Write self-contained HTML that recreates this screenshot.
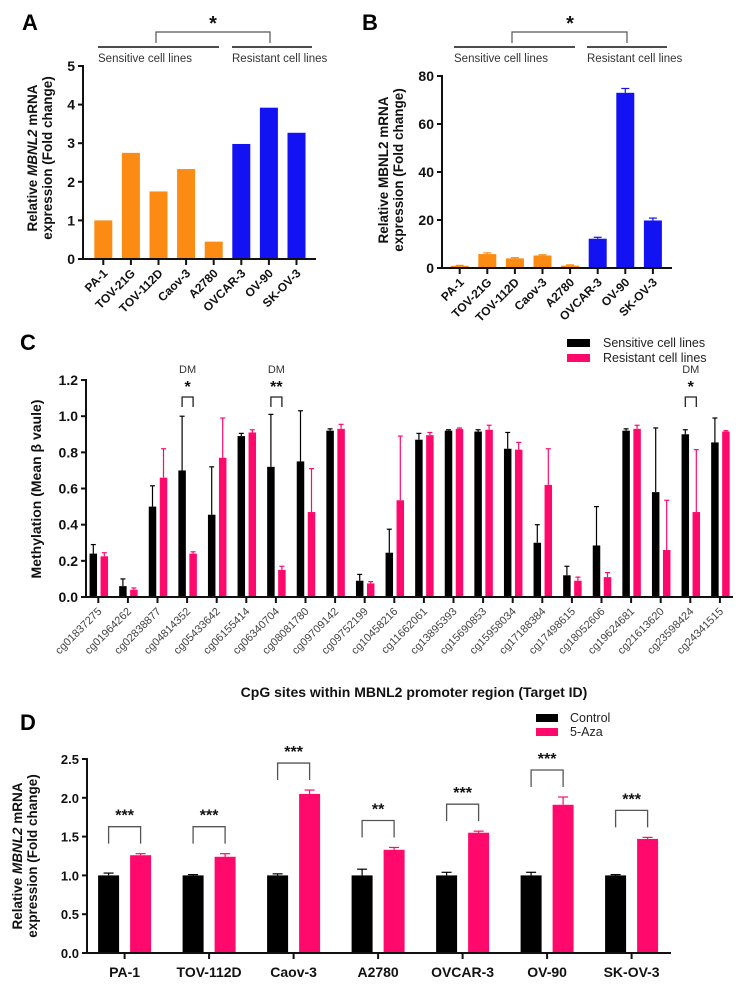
<!DOCTYPE html>
<html><head><meta charset="utf-8">
<style>
html,body{margin:0;padding:0;background:#fff;}
svg{display:block;font-family:"Liberation Sans",Arial,sans-serif;}
</style></head>
<body>
<svg id="fig" width="747" height="985" viewBox="0 0 747 985" xmlns="http://www.w3.org/2000/svg">
<rect x="0" y="0" width="747" height="985" fill="#fff"/>
</svg>
<script>
// ---------- Panel A data ----------
const cellLinesAB = ["PA-1","TOV-21G","TOV-112D","Caov-3","A2780","OVCAR-3","OV-90","SK-OV-3"];
const valuesA = [1.0, 2.75, 1.75, 2.33, 0.45, 2.98, 3.92, 3.27];
const ticksA = [0,1,2,3,4,5];
// ---------- Panel B data ----------
const valuesB = [0.9, 5.8, 4.0, 5.2, 1.0, 12.2, 73.0, 19.8];
const errorsB = [0.2, 0.5, 0.3, 0.3, 0.3, 0.6, 1.8, 1.0];
const ticksB = [0,20,40,60,80];
const groupAB = ["s","s","s","s","s","r","r","r"];
// ---------- Panel C data ----------
const cpgIds = ["cg01837275","cg01964262","cg02838877","cg04814352","cg05433642","cg06155414","cg06340704","cg08081780","cg09709142","cg09752199","cg10458216","cg11662061","cg13895393","cg15690853","cg15958034","cg17188384","cg17498615","cg18052606","cg19624681","cg21613620","cg23598424","cg24341515"];
const sensitiveC = [0.24,0.06,0.50,0.70,0.455,0.89,0.72,0.75,0.92,0.09,0.245,0.87,0.92,0.915,0.82,0.30,0.12,0.285,0.92,0.58,0.90,0.855];
const sensitiveErrC = [0.05,0.04,0.115,0.30,0.265,0.015,0.29,0.28,0.01,0.035,0.13,0.035,0.005,0.01,0.09,0.10,0.05,0.215,0.01,0.355,0.025,0.135];
const resistantC = [0.225,0.04,0.66,0.24,0.77,0.91,0.15,0.47,0.93,0.075,0.535,0.895,0.93,0.925,0.815,0.62,0.09,0.11,0.93,0.26,0.47,0.915];
const resistantErrC = [0.02,0.01,0.16,0.01,0.22,0.015,0.02,0.24,0.025,0.01,0.355,0.015,0.005,0.025,0.04,0.20,0.02,0.025,0.02,0.275,0.345,0.005];
const ticksC = [0,0.2,0.4,0.6,0.8,1.0,1.2];
const dmIndex = [3,6,20];
const dmStars = ["*","**","*"];
// ---------- Panel D data ----------
const cellLinesD = ["PA-1","TOV-112D","Caov-3","A2780","OVCAR-3","OV-90","SK-OV-3"];
const controlD = [1.0,1.0,1.0,1.0,1.0,1.0,1.0];
const controlErrD = [0.03,0.01,0.02,0.08,0.04,0.04,0.01];
const azaD = [1.26,1.24,2.05,1.33,1.55,1.91,1.47];
const azaErrD = [0.02,0.04,0.05,0.03,0.02,0.10,0.02];
const starsD = ["***","***","***","**","***","***","***"];
const ticksD = [0,0.5,1.0,1.5,2.0,2.5];

const NS = "http://www.w3.org/2000/svg";
const svg = document.getElementById("fig");
function mk(tag, attrs, name, inter){
  const el = document.createElementNS(NS, tag);
  for (const k in attrs) el.setAttribute(k, attrs[k]);
  
  
  svg.appendChild(el);
  return el;
}
function txt(x,y,s,attrs,name){
  const el = mk("text", Object.assign({x:x,y:y}, attrs), name, false);
  el.textContent = s;
  return el;
}
function ln(x1,y1,x2,y2,w,c,name){
  return mk("line",{x1:x1,y1:y1,x2:x2,y2:y2,stroke:c||"#000","stroke-width":w||1},name,false);
}
function errBar(x,y1,y2,cap,c,name){
  ln(x,y1,x,y2,1.2,c,name);
  ln(x-cap,y2,x+cap,y2,1.2,c,name+"-cap");
}

// ---------- Panel A ----------
const yA = v => 259 - v*38.6;
const xA = i => 103.3 + i*27.6;
// ---------- Panel B ----------
const yB = v => 268 - v*2.4;
const xB = i => 459.7 + i*27.6;

function panelAB(p, vals, errs, ticks, xs, ys, axisX, axisEnd, yTitleX, yTitleY, italic){
  const y0 = ys(0);
  // bars
  vals.forEach((v,i)=>{
    const col = groupAB[i]==="s" ? "#fb8b12" : "#1212f2";
    mk("rect",{x:xs(i)-9,y:ys(v),width:18,height:y0-ys(v),fill:col},"bar-"+p+"-"+cellLinesAB[i].toLowerCase(),false);
    if (errs) errBar(xs(i), ys(v), ys(v+errs[i]), 4, col, "error-bar-"+p+"-"+i);
  });
  // axes
  ln(axisX, ys(ticks[ticks.length-1])-1, axisX, y0+1, 2, "#111", "y-axis-"+p);
  ln(axisX-1, y0, axisEnd, y0, 2, "#111", "x-axis-"+p);
  ticks.forEach(t=>{
    ln(axisX-5, ys(t), axisX, ys(t), 2, "#111", "y-tick-"+p);
    txt(axisX-8, ys(t)+5, String(t), {"text-anchor":"end","font-size":"14","font-weight":"bold",fill:"#111"}, "y-tick-label-"+p);
  });
  cellLinesAB.forEach((c,i)=>{
    ln(xs(i), y0, xs(i), y0+6, 2, "#111", "x-tick-"+p);
    txt(0,0,c,{"text-anchor":"end","font-size":"12","font-weight":"bold",fill:"#111",transform:"translate("+(xs(i)+5)+","+(y0+15)+") rotate(-45)"},"x-tick-label-"+p);
  });
  // y title
  const t1 = mk("text",{transform:"translate("+yTitleX+","+yTitleY+") rotate(-90)","text-anchor":"middle","font-size":"13.5","font-weight":"bold",fill:"#111"},"y-axis-title-"+p,false);
  if (italic){
    t1.innerHTML = 'Relative <tspan font-style="italic">MBNL2</tspan> mRNA';
  } else {
    t1.textContent = "Relative MBNL2 mRNA";
  }
  txt(0,0,"expression (Fold change)",{transform:"translate("+(yTitleX+15)+","+yTitleY+") rotate(-90)","text-anchor":"middle","font-size":"13.5","font-weight":"bold",fill:"#111"},"y-axis-title-2-"+p);
}
panelAB("a", valuesA, null, ticksA, xA, yA, 83, 316, 37, 158, true);
panelAB("b", valuesB, errorsB, ticksB, xB, yB, 442, 672, 388, 170, false);

// group headers
function header(p, dx){
  txt(22+dx,30,p.toUpperCase(),{"font-size":"22","font-weight":"bold",fill:"#000"},"panel-label-"+p);
  txt(213+dx,30,"*",{"text-anchor":"middle","font-size":"20","font-weight":"bold",fill:"#111"},"significance-star-"+p);
  mk("polyline",{points:(156+dx)+",43 "+(156+dx)+",32 "+(270+dx)+",32 "+(270+dx)+",43",fill:"none",stroke:"#555","stroke-width":"1.2"},"significance-bracket-"+p,false);
  ln(98+dx,47,219+dx,47,1.8,"#333","sensitive-group-line-"+p);
  ln(232+dx,47,312+dx,47,1.8,"#333","resistant-group-line-"+p);
  txt(98+dx,62,"Sensitive cell lines",{"font-size":"11.5",fill:"#333"},"sensitive-group-label-"+p);
  txt(232+dx,62,"Resistant cell lines",{"font-size":"11.5",fill:"#333"},"resistant-group-label-"+p);
}
header("a",0);
// B header positioned relative
(function(){
  const dx = 356;
  txt(362,30,"B",{"font-size":"22","font-weight":"bold",fill:"#000"},"panel-label-b");
  txt(570,30,"*",{"text-anchor":"middle","font-size":"20","font-weight":"bold",fill:"#111"},"significance-star-b");
  mk("polyline",{points:"512,43 512,32 627,32 627,43",fill:"none",stroke:"#555","stroke-width":"1.2"},"significance-bracket-b",false);
  ln(454,47,575,47,1.8,"#333","sensitive-group-line-b");
  ln(587,47,667,47,1.8,"#333","resistant-group-line-b");
  txt(454,62,"Sensitive cell lines",{"font-size":"11.5",fill:"#333"},"sensitive-group-label-b");
  txt(587,62,"Resistant cell lines",{"font-size":"11.5",fill:"#333"},"resistant-group-label-b");
})();

// ---------- Panel C ----------
const yC = v => 597 - v*180.8;
const xC = i => 98.3 + i*29.6;
txt(20,350,"C",{"font-size":"22","font-weight":"bold",fill:"#000"},"panel-label-c");
cpgIds.forEach((id,i)=>{
  const xb = xC(i)-5, xp = xC(i)+6;
  mk("rect",{x:xb-3.75,y:yC(sensitiveC[i]),width:7.5,height:597-yC(sensitiveC[i]),fill:"#000"},"bar-sensitive-"+id,false);
  errBar(xb, yC(sensitiveC[i]), yC(sensitiveC[i]+sensitiveErrC[i]), 2.5, "#000", "error-bar-sensitive-"+id);
  mk("rect",{x:xp-3.75,y:yC(resistantC[i]),width:7.5,height:597-yC(resistantC[i]),fill:"#ff0a6c"},"bar-resistant-"+id,false);
  errBar(xp, yC(resistantC[i]), yC(resistantC[i]+resistantErrC[i]), 2.5, "#ff0a6c", "error-bar-resistant-"+id);
  ln(xC(i),597,xC(i),603,2,"#111","x-tick-c");
  txt(0,0,id,{"text-anchor":"end","font-size":"11",fill:"#444",transform:"translate("+(xC(i)+4)+",612) rotate(-45)"},"x-tick-label-c");
});
ln(86,yC(1.2)-1,86,598,2,"#111","y-axis-c");
ln(85,597,733,597,2,"#111","x-axis-c");
ticksC.forEach(t=>{
  ln(81,yC(t),86,yC(t),2,"#111","y-tick-c");
  txt(78,yC(t)+5,t.toFixed(1),{"text-anchor":"end","font-size":"14","font-weight":"bold",fill:"#111"},"y-tick-label-c");
});
txt(0,0,"Methylation (Mean β vaule)",{transform:"translate(41,489) rotate(-90)","text-anchor":"middle","font-size":"14","font-weight":"bold",fill:"#111"},"y-axis-title-c");
txt(414,697,"CpG sites within MBNL2 promoter region (Target ID)",{"text-anchor":"middle","font-size":"14","font-weight":"bold",fill:"#111"},"x-axis-title-c");
dmIndex.forEach((idx,k)=>{
  const x1 = xC(idx)-5, x2 = xC(idx)+6, xm = (x1+x2)/2;
  txt(xm,373,"DM",{"text-anchor":"middle","font-size":"11",fill:"#333"},"dm-label");
  txt(xm,392,dmStars[k],{"text-anchor":"middle","font-size":"16","font-weight":"bold",fill:"#111"},"dm-significance-star");
  mk("polyline",{points:x1+",407 "+x1+",397 "+x2+",397 "+x2+",407",fill:"none",stroke:"#222","stroke-width":"1.3"},"dm-bracket",false);
});
mk("rect",{x:567,y:339,width:23,height:8,fill:"#000"},"legend-swatch-sensitive",false);
txt(603,347,"Sensitive cell lines",{"font-size":"12.5",fill:"#222"},"legend-label-sensitive");
mk("rect",{x:567,y:354,width:23,height:8,fill:"#ff0a6c"},"legend-swatch-resistant",false);
txt(603,362,"Resistant cell lines",{"font-size":"12.5",fill:"#222"},"legend-label-resistant");

// ---------- Panel D ----------
const yD = v => 953 - v*77.6;
const xD = i => 124.6 + i*84.5;
txt(20,730,"D",{"font-size":"22","font-weight":"bold",fill:"#000"},"panel-label-d");
cellLinesD.forEach((c,i)=>{
  const xb = xD(i)-16, xp = xD(i)+16;
  mk("rect",{x:xb-10.5,y:yD(controlD[i]),width:21,height:953-yD(controlD[i]),fill:"#000"},"bar-control-"+c.toLowerCase(),false);
  errBar(xb, yD(controlD[i]), yD(controlD[i]+controlErrD[i]), 5, "#000", "error-bar-control-"+c.toLowerCase());
  mk("rect",{x:xp-10.5,y:yD(azaD[i]),width:21,height:953-yD(azaD[i]),fill:"#ff0a6c"},"bar-5aza-"+c.toLowerCase(),false);
  errBar(xp, yD(azaD[i]), yD(azaD[i]+azaErrD[i]), 5, "#ff0a6c", "error-bar-5aza-"+c.toLowerCase());
  const top = yD(azaD[i]+azaErrD[i]) - 27;
  mk("polyline",{points:xb+","+(top+17)+" "+xb+","+top+" "+xp+","+top+" "+xp+","+(top+17),fill:"none",stroke:"#555","stroke-width":"1.3"},"significance-bracket-d",false);
  txt((xb+xp)/2,top-6,starsD[i],{"text-anchor":"middle","font-size":"16","font-weight":"bold",fill:"#111"},"significance-stars-d");
  ln(xD(i),953,xD(i),959,2,"#111","x-tick-d");
  txt(xD(i),977,c,{"text-anchor":"middle","font-size":"14","font-weight":"bold",fill:"#111"},"x-tick-label-d");
});
ln(87,yD(2.5)-1,87,954,2,"#111","y-axis-d");
ln(86,953,671,953,2,"#111","x-axis-d");
ticksD.forEach(t=>{
  ln(82,yD(t),87,yD(t),2,"#111","y-tick-d");
  txt(79,yD(t)+5,t.toFixed(1),{"text-anchor":"end","font-size":"13","font-weight":"bold",fill:"#111"},"y-tick-label-d");
});
const tD = mk("text",{transform:"translate(22,856) rotate(-90)","text-anchor":"middle","font-size":"13.5","font-weight":"bold",fill:"#111"},"y-axis-title-d",false);
tD.innerHTML = 'Relative <tspan font-style="italic">MBNL2</tspan> mRNA';
txt(0,0,"expression (Fold change)",{transform:"translate(37,856) rotate(-90)","text-anchor":"middle","font-size":"13.5","font-weight":"bold",fill:"#111"},"y-axis-title-2-d");
mk("rect",{x:536,y:714,width:22,height:8,fill:"#000"},"legend-swatch-control",false);
txt(570,722,"Control",{"font-size":"12.5",fill:"#222"},"legend-label-control");
mk("rect",{x:536,y:728,width:22,height:8,fill:"#ff0a6c"},"legend-swatch-5aza",false);
txt(570,736,"5-Aza",{"font-size":"12.5",fill:"#222"},"legend-label-5aza");
</script>
</body></html>
